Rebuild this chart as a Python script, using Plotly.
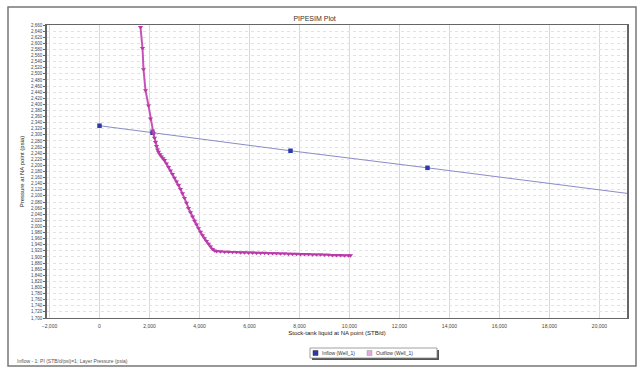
import plotly.graph_objects as go

# Inflow (IPR) data
inflow_x = [0, 2120, 7640, 13120, 24000]
inflow_y = [2330, 2307, 2248, 2192, 2078]

# Outflow (VLP) data
outflow_x = [1640, 1720, 1760, 1840, 1960, 2040, 2120,
             2160, 2200, 2240, 2280, 2320, 2360, 2420, 2480, 2540, 2600, 2680, 2760, 2840, 2920,
             3000, 3080, 3160, 3240, 3320, 3400, 3480, 3560, 3640, 3720, 3800, 3880, 3960, 4040,
             4120, 4200, 4280, 4360, 4440, 4520, 4600, 4680,
             4840, 5000, 5160, 5320, 5480, 5640, 5800, 5960, 6120, 6280, 6440, 6600, 6760, 6920,
             7080, 7240, 7400, 7560, 7720, 7880, 8040, 8200, 8360, 8520, 8680, 8840, 9000, 9160,
             9320, 9480, 9640, 9800, 9960, 10040]
outflow_y = [2653, 2584, 2515, 2446, 2396, 2353, 2314,
             2304, 2290, 2276, 2263, 2252, 2244, 2236, 2229, 2223, 2217, 2206, 2194, 2183, 2171,
             2159, 2147, 2135, 2122, 2108, 2093, 2077, 2060, 2046, 2032, 2018, 2006, 1994, 1982,
             1971, 1961, 1952, 1943, 1934, 1926, 1921, 1919,
             1918, 1917, 1917, 1916, 1916, 1915, 1915, 1914, 1914, 1913, 1913, 1913, 1912, 1912,
             1912, 1911, 1911, 1910, 1910, 1910, 1909, 1909, 1909, 1908, 1908, 1908, 1907, 1907,
             1906, 1906, 1906, 1905, 1905, 1905]

title_text = "PIPESIM Plot"
x_title = "Stock-tank liquid at NA point (STB/d)"
y_title = "Pressure at NA point (psia)"
legend_names = ["Inflow (Well_1)", "Outflow (Well_1)"]
footnote = "Inflow - 1: PI (STB/d/psi)=1; Layer Pressure (psia)"

FONT = "Liberation Sans, Arial, sans-serif"
INFLOW_LINE, INFLOW_MK = "#8a8cc8", "#2a3aa8"
OUTFLOW_LINE, OUTFLOW_MK = "#c851b8", "#b83aa8"

fig = go.Figure()
fig.add_trace(go.Scatter(
    x=inflow_x, y=inflow_y, mode="lines+markers", name=legend_names[0],
    line=dict(color=INFLOW_LINE, width=1),
    marker=dict(symbol="square", size=4.5, color=INFLOW_MK),
))
fig.add_trace(go.Scatter(
    x=outflow_x, y=outflow_y, mode="lines+markers", name=legend_names[1],
    line=dict(color=OUTFLOW_LINE, width=2),
    marker=dict(symbol="triangle-down", size=4.5, color=OUTFLOW_MK),
))

L, R, T, B = 47, 627, 25, 318
W, H = 642, 368
pw, ph = R - L, B - T

def px(x):
    return (x - L) / pw

def py(y):
    return (B - y) / ph

shapes = [
    # outer frame
    dict(type="rect", xref="paper", yref="paper", x0=px(8), x1=px(636), y0=py(366), y1=py(7),
         line=dict(color="#777", width=1.5), fillcolor="rgba(0,0,0,0)", layer="below"),
    # legend shadow + box
    dict(type="rect", xref="paper", yref="paper", x0=px(312), x1=px(439), y0=py(360), y1=py(350),
         line=dict(width=0), fillcolor="#555"),
    dict(type="rect", xref="paper", yref="paper", x0=px(310), x1=px(437), y0=py(358), y1=py(348),
         line=dict(color="#888", width=0.8), fillcolor="white"),
    # legend swatches
    dict(type="rect", xref="paper", yref="paper", x0=px(313), x1=px(318), y0=py(355.5), y1=py(350.5),
         line=dict(color="#333", width=0.5), fillcolor=INFLOW_MK),
    dict(type="rect", xref="paper", yref="paper", x0=px(367), x1=px(372), y0=py(355.5), y1=py(350.5),
         line=dict(color="#999", width=0.5), fillcolor="#e8a8e0"),
]

annotations = [
    dict(text=legend_names[0], xref="paper", yref="paper", x=px(320), y=py(353),
         xanchor="left", yanchor="middle", showarrow=False, font=dict(size=5, color="#333")),
    dict(text=legend_names[1], xref="paper", yref="paper", x=px(374), y=py(353),
         xanchor="left", yanchor="middle", showarrow=False, font=dict(size=5, color="#333")),
    dict(text=footnote, xref="paper", yref="paper", x=px(15), y=py(361),
         xanchor="left", yanchor="middle", showarrow=False, font=dict(size=5, color="#555")),
]

fig.update_layout(
    width=W, height=H,
    margin=dict(l=L, r=W - R, t=T, b=H - B, autoexpand=False),
    paper_bgcolor="white", plot_bgcolor="white",
    font=dict(family=FONT, size=6, color="#333"),
    title=dict(text=title_text, x=0.49, xref="container", y=1 - 19 / H, yref="container",
               xanchor="center", yanchor="middle", font=dict(size=7, color="#333")),
    showlegend=False,
    xaxis=dict(range=[-2100, 21100], dtick=2000, tick0=0, tickformat=",",
               showgrid=True, gridcolor="#d8d8d8", gridwidth=1,
               showline=True, linecolor="#666", linewidth=1, mirror=True,
               ticks="", ticklabelstandoff=3,
               tickfont=dict(size=5, color="#444"), zeroline=False, automargin=False,
               title=dict(text=x_title, font=dict(size=6, color="#222"), standoff=2)),
    yaxis=dict(range=[1700, 2660], dtick=20, tick0=1700, tickformat=",d",
               showgrid=True, gridcolor="#e2e2e2", griddash="dot", gridwidth=1,
               showline=True, linecolor="#666", linewidth=1.5, mirror=True,
               ticks="outside", ticklen=2, tickcolor="#666", automargin=False,
               tickfont=dict(size=4.5, color="#444"), zeroline=False,
               title=dict(text=y_title, font=dict(size=6, color="#222"), standoff=6)),
    shapes=shapes,
    annotations=annotations,
)

fig.write_html("out.html")
